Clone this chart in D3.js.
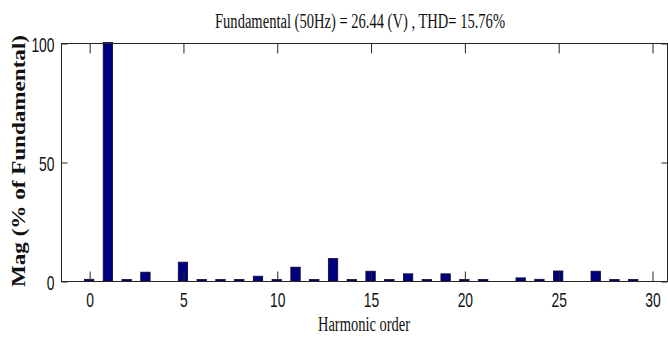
<!DOCTYPE html>
<html>
<head>
<meta charset="utf-8">
<script src="https://cdn.jsdelivr.net/npm/d3@7"></script>
<style>
  body { margin: 0; background: #fff; }
  svg { display: block; }
</style>
</head>
<body>
<svg id="chart" width="668" height="338"></svg>
<script>
// harmonic orders and magnitude (% of fundamental)
var orders = [0,1,2,3,4,5,6,7,8,9,10,11,12,13,14,15,16,17,18,19,20,21,22,23,24,25,26,27,28,29,30];
var mags   = [0.5,100,0.4,3.5,0,7.7,0.4,0.4,0.4,1.8,0.4,5.6,0.4,9.2,0.4,3.9,0.4,2.8,0.4,2.8,0.4,0.4,0,1.1,0.5,4.0,0,3.9,0.4,0.4,0];
var xTicks = [0,5,10,15,20,25,30];
var yTicks = [0,50,100];

var titleText = "Fundamental (50Hz) = 26.44 (V) , THD= 15.76%";
var xLabel = "Harmonic order";
var yLabel = "Mag (% of Fundamental)";

var sansFont = "'Liberation Sans', Arial, sans-serif";
var serifFont = "'Liberation Serif', 'Times New Roman', serif";

var svg = d3.select('#chart');
var plotL = 61, plotR = 667, plotT = 43, plotB = 281;
var squish = 0.66; // glyphs in the picture are narrow

var x = d3.scaleLinear().domain([-1.5, 30.8]).range([plotL, plotR]);
var y = d3.scaleLinear().domain([0, 100]).range([plotB, plotT]);
var barW = x(0.5) - x(0);

var data = orders.map(function(o, i){ return {order: o, mag: mags[i]} })
	.filter(function(d){ return d.mag > 0 });

// bars
svg.append('g').selectAll('rect').data(data).enter().append('rect')
	.attr('x', function(d){ return x(d.order) - barW / 2 })
	.attr('y', function(d){ return y(d.mag) - 0.5 })
	.attr('width', barW)
	.attr('height', function(d){ return y(0) - y(d.mag) + 0.5 })
	.attr('fill', '#00007f')
	.attr('stroke', '#0a0a30')
	.attr('stroke-width', 0.8);

// box
svg.append('rect')
	.attr('x', plotL + 0.5).attr('y', plotT + 0.5)
	.attr('width', plotR - plotL).attr('height', plotB - plotT)
	.attr('fill', 'none').attr('stroke', '#262626').attr('stroke-width', 1);

function styleAxis(g){
	g.select('.domain').remove();
	g.selectAll('line').attr('stroke', '#262626');
}

var gx = svg.append('g').attr('transform', 'translate(0.5,' + (plotB + 0.5) + ')')
	.call(d3.axisBottom(x).tickValues(xTicks).tickSize(-10).tickFormat(d3.format('d')));
styleAxis(gx);
gx.selectAll('text')
	.attr('y', 26).attr('dy', 0)
	.attr('transform', 'scale(' + squish + ',1)')
	.style('font-family', sansFont)
	.style('font-size', '21px').attr('fill', '#111');

var gt = svg.append('g').attr('transform', 'translate(0.5,' + (plotT + 0.5) + ')')
	.call(d3.axisTop(x).tickValues(xTicks).tickSize(-10).tickFormat(''));
styleAxis(gt);

var gy = svg.append('g').attr('transform', 'translate(' + (plotL + 0.5) + ',0.5)')
	.call(d3.axisLeft(y).tickValues(yTicks).tickSize(-6).tickFormat(d3.format('d')));
styleAxis(gy);
gy.selectAll('text')
	.attr('x', -7 / squish).attr('dy', '0.36em')
	.attr('transform', 'scale(' + squish + ',1)')
	.style('font-family', sansFont)
	.style('font-size', '21px').attr('fill', '#111');

var gr = svg.append('g').attr('transform', 'translate(' + (plotR + 0.5) + ',0.5)')
	.call(d3.axisRight(y).tickValues(yTicks).tickSize(-6).tickFormat(''));
styleAxis(gr);

// title and labels
svg.append('text')
	.attr('x', 215).attr('y', 28)
	.attr('textLength', 290).attr('lengthAdjust', 'spacingAndGlyphs')
	.style('font-family', serifFont)
	.style('font-size', '20px').attr('fill', '#111')
	.text(titleText);

svg.append('text')
	.attr('x', 318).attr('y', 331)
	.attr('textLength', 92).attr('lengthAdjust', 'spacingAndGlyphs')
	.style('font-family', serifFont)
	.style('font-size', '20px').attr('fill', '#111')
	.text(xLabel);

svg.append('text')
	.attr('transform', 'translate(25,287) rotate(-90)')
	.attr('textLength', 252).attr('lengthAdjust', 'spacingAndGlyphs')
	.style('font-family', serifFont)
	.style('font-weight', 'bold')
	.style('font-size', '18px').attr('fill', '#111')
	.text(yLabel);
</script>
</body>
</html>
